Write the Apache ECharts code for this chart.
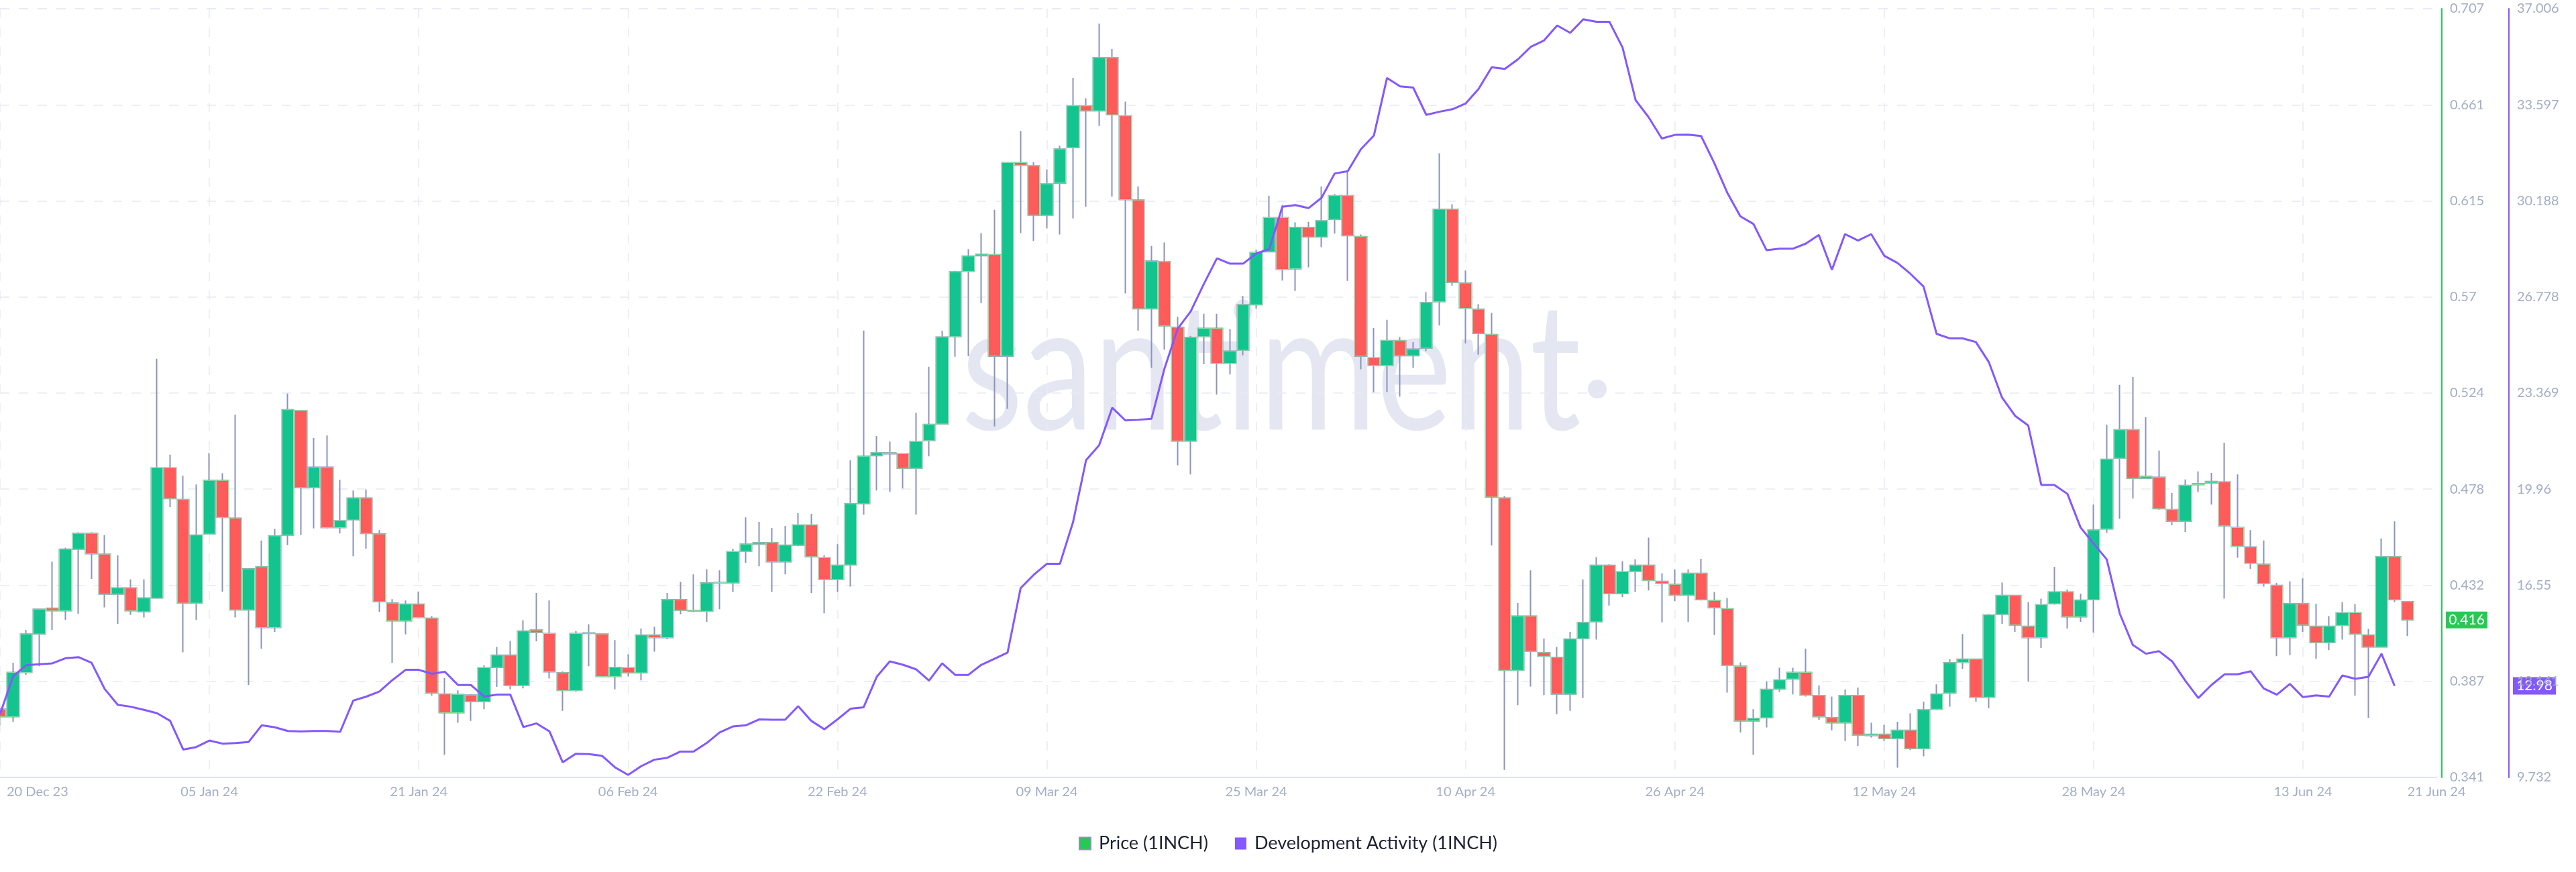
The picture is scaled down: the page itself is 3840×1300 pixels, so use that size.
<!DOCTYPE html>
<html><head><meta charset="utf-8">
<script src="https://cdn.jsdelivr.net/npm/echarts@6/dist/echarts.min.js"></script>
<style>html,body{margin:0;padding:0;background:#fff}#c{width:3840px;height:1300px}</style>
</head><body><div id="c"></div>
<script>
// x positions are day offsets from 20 Dec 2023
const xTickLabels = ['20 Dec 23','05 Jan 24','21 Jan 24','06 Feb 24','22 Feb 24','09 Mar 24','25 Mar 24','10 Apr 24','26 Apr 24','12 May 24','28 May 24','13 Jun 24'];
const xTickStep = 16;
const xEndLabel = '21 Jun 24';
const viewDays = 186.2;
const priceTickLabels = ['0.341','0.387','0.432','0.478','0.524','0.57','0.615','0.661','0.707'];
const devTickLabels = ['9.732','13.141','16.55','19.96','23.369','26.778','30.188','33.597','37.006'];

// [open, close, low, high] per day, 1INCH price
const priceCandles = [
[0.3735,0.3699,0.3658,0.3742],[0.3699,0.3910,0.3675,0.3956],[0.3910,0.4093,0.3898,0.4112],[0.4093,0.4211,0.3939,0.4213],[0.4216,0.4204,0.4112,0.4437],
[0.4204,0.4497,0.4160,0.4504],[0.4497,0.4572,0.4189,0.4577],[0.4572,0.4475,0.4355,0.4577],[0.4473,0.4283,0.4220,0.4564],[0.4283,0.4312,0.4141,0.4468],
[0.4312,0.4204,0.4184,0.4353],[0.4199,0.4264,0.4172,0.4353],[0.4264,0.4884,0.4260,0.5404],[0.4884,0.4738,0.4697,0.4947],[0.4733,0.4240,0.4006,0.4846],
[0.4240,0.4564,0.4160,0.4805],[0.4569,0.4824,0.4566,0.4954],[0.4824,0.4648,0.4295,0.4858],[0.4644,0.4208,0.4172,0.5137],[0.4208,0.4403,0.3850,0.4405],
[0.4413,0.4124,0.4023,0.4538],[0.4124,0.4560,0.4103,0.4593],[0.4564,0.5161,0.4516,0.5238],[0.5156,0.4790,0.4564,0.5158],[0.4790,0.4887,0.4596,0.5026],
[0.4887,0.4600,0.4596,0.5038],[0.4600,0.4632,0.4572,0.4827],[0.4636,0.4740,0.4463,0.4776],[0.4740,0.4572,0.4499,0.4781],[0.4569,0.4247,0.4199,0.4588],
[0.4240,0.4156,0.3956,0.4259],[0.4156,0.4235,0.4091,0.4252],[0.4235,0.4172,0.4168,0.4295],[0.4168,0.3812,0.3800,0.4178],[0.3807,0.3718,0.3518,0.3884],
[0.3718,0.3805,0.3670,0.3824],[0.3802,0.3771,0.3679,0.3807],[0.3771,0.3932,0.3735,0.3944],[0.3934,0.3992,0.3841,0.4031],[0.3992,0.3848,0.3829,0.4060],
[0.3848,0.4107,0.3834,0.4158],[0.4112,0.4100,0.4058,0.4288],[0.4095,0.3913,0.3881,0.4252],[0.3908,0.3824,0.3727,0.3915],[0.3824,0.4095,0.3819,0.4107],
[0.4098,0.4096,0.3939,0.4139],[0.4093,0.3891,0.3889,0.4095],[0.3891,0.3934,0.3829,0.4064],[0.3932,0.3908,0.3891,0.3996],[0.3908,0.4088,0.3872,0.4119],
[0.4088,0.4076,0.4009,0.4127],[0.4076,0.4256,0.4069,0.4288],[0.4256,0.4206,0.4187,0.4341],[0.4205,0.4203,0.4197,0.4377],[0.4201,0.4336,0.4151,0.4401],
[0.4336,0.4338,0.4211,0.4396],[0.4336,0.4485,0.4293,0.4499],[0.4487,0.4521,0.4432,0.4648],[0.4521,0.4528,0.4415,0.4627],[0.4528,0.4437,0.4293,0.4598],
[0.4437,0.4516,0.4377,0.4608],[0.4516,0.4612,0.4511,0.4668],[0.4612,0.4461,0.4288,0.4665],[0.4456,0.4353,0.4192,0.4468],[0.4353,0.4420,0.4293,0.4521],
[0.4422,0.4713,0.4319,0.4920],[0.4713,0.4939,0.4661,0.5538],[0.4942,0.4956,0.4776,0.5036],[0.4956,0.4951,0.4769,0.5009],[0.4951,0.4882,0.4786,0.4953],
[0.4882,0.5009,0.4661,0.5146],[0.5014,0.5091,0.4939,0.5365],[0.5093,0.5507,0.5091,0.5536],[0.5509,0.5817,0.5413,0.5822],[0.5820,0.5892,0.5416,0.5925],
[0.5894,0.5901,0.5668,0.6002],[0.5899,0.5416,0.5081,0.6113],[0.5416,0.6337,0.5165,0.6339],[0.6337,0.6325,0.6002,0.6488],[0.6322,0.6087,0.5964,0.6339],
[0.6087,0.6236,0.6024,0.6305],[0.6240,0.6402,0.5995,0.6418],[0.6409,0.6608,0.6072,0.6741],[0.6608,0.6584,0.6127,0.6644],[0.6584,0.6837,0.6512,0.6999],
[0.6837,0.6565,0.6176,0.6878],[0.6560,0.6161,0.5714,0.6628],[0.6159,0.5642,0.5538,0.6224],[0.5642,0.5868,0.5360,0.5940],[0.5865,0.5560,0.5447,0.5957],
[0.5553,0.5012,0.4896,0.5603],[0.5012,0.5505,0.4853,0.5512],[0.5509,0.5548,0.5377,0.5618],[0.5548,0.5382,0.5233,0.5618],[0.5382,0.5440,0.5329,0.5545],
[0.5444,0.5661,0.5420,0.5702],[0.5661,0.5909,0.5642,0.5923],[0.5913,0.6075,0.5912,0.6180],[0.6075,0.5829,0.5776,0.6137],[0.5832,0.6029,0.5726,0.6053],
[0.6029,0.5983,0.5839,0.6055],[0.5983,0.6060,0.5935,0.6224],[0.6067,0.6180,0.5999,0.6188],[0.6180,0.5990,0.5774,0.6296],[0.5985,0.5416,0.5353,0.5995],
[0.5408,0.5372,0.5243,0.5550],[0.5372,0.5490,0.5245,0.5589],[0.5490,0.5418,0.5223,0.5507],[0.5418,0.5449,0.5360,0.5483],[0.5454,0.5671,0.5440,0.5721],
[0.5675,0.6115,0.5562,0.6382],[0.6115,0.5767,0.5752,0.6139],[0.5764,0.5644,0.5476,0.5824],[0.5639,0.5524,0.5423,0.5663],[0.5519,0.4745,0.4514,0.5622],
[0.4740,0.3920,0.3446,0.4750],[0.3920,0.4178,0.3754,0.4240],[0.4178,0.4011,0.3843,0.4396],[0.4004,0.3987,0.3802,0.4071],[0.3982,0.3807,0.3711,0.4031],
[0.3807,0.4069,0.3727,0.4103],[0.4071,0.4148,0.3788,0.4353],[0.4151,0.4420,0.4066,0.4459],[0.4420,0.4285,0.4228,0.4425],[0.4285,0.4389,0.4269,0.4439],
[0.4391,0.4420,0.4293,0.4449],[0.4420,0.4348,0.4300,0.4552],[0.4343,0.4334,0.4148,0.4382],[0.4329,0.4278,0.4249,0.4401],[0.4278,0.4382,0.4151,0.4401],
[0.4382,0.4256,0.4252,0.4451],[0.4252,0.4218,0.4088,0.4293],[0.4213,0.3944,0.3814,0.4264],[0.3939,0.3679,0.3624,0.3958],[0.3679,0.3691,0.3518,0.3735],
[0.3694,0.3829,0.3648,0.3867],[0.3831,0.3874,0.3817,0.3932],[0.3879,0.3910,0.3805,0.3932],[0.3910,0.3802,0.3795,0.4023],[0.3800,0.3699,0.3684,0.3848],
[0.3694,0.3670,0.3634,0.3795],[0.3670,0.3800,0.3583,0.3829],[0.3800,0.3612,0.3559,0.3838],[0.3610,0.3615,0.3600,0.3670],[0.3615,0.3595,0.3583,0.3660],
[0.3595,0.3634,0.3456,0.3675],[0.3634,0.3547,0.3540,0.3715],[0.3547,0.3732,0.3511,0.3771],[0.3735,0.3807,0.3730,0.3853],[0.3812,0.3956,0.3747,0.3973],
[0.3958,0.3973,0.3927,0.4093],[0.3973,0.3792,0.3771,0.3975],[0.3792,0.4184,0.3739,0.4189],[0.4187,0.4276,0.4141,0.4338],[0.4276,0.4136,0.4103,0.4278],
[0.4129,0.4076,0.3867,0.4244],[0.4076,0.4232,0.4026,0.4261],[0.4237,0.4293,0.4232,0.4413],[0.4293,0.4175,0.4119,0.4305],[0.4175,0.4254,0.4151,0.4285],
[0.4256,0.4588,0.4100,0.4709],[0.4593,0.4925,0.4574,0.5089],[0.4930,0.5065,0.4641,0.5279],[0.5065,0.4834,0.4738,0.5317],[0.4834,0.4843,0.4832,0.5125],
[0.4839,0.4690,0.4685,0.4966],[0.4685,0.4630,0.4612,0.4764],[0.4630,0.4800,0.4579,0.4829],[0.4804,0.4809,0.4769,0.4867],[0.4812,0.4819,0.4709,0.4860],
[0.4817,0.4608,0.4261,0.5004],[0.4600,0.4511,0.4456,0.4853],[0.4507,0.4430,0.4403,0.4588],[0.4425,0.4334,0.4319,0.4538],[0.4324,0.4076,0.3987,0.4336],
[0.4076,0.4237,0.3992,0.4343],[0.4237,0.4136,0.4103,0.4358],[0.4129,0.4052,0.3975,0.4237],[0.4052,0.4129,0.4016,0.4178],[0.4134,0.4194,0.4066,0.4244],
[0.4194,0.4093,0.3800,0.4235],[0.4088,0.4031,0.3694,0.4117],[0.4031,0.4461,0.4028,0.4548],[0.4461,0.4256,0.4244,0.4629],[0.4247,0.4160,0.4083,0.4249]
];

// Development activity (1INCH), per day
const devActivity = [
11.97,13.32,13.71,13.75,13.78,13.96,14.00,13.80,12.87,12.31,
12.24,12.13,12.01,11.74,10.72,10.81,11.04,10.93,10.95,10.99,
11.58,11.51,11.38,11.36,11.38,11.38,11.35,12.46,12.60,12.78,
13.19,13.55,13.55,13.41,13.48,13.01,13.01,12.60,12.67,12.67,
11.52,11.65,11.36,10.27,10.57,10.56,10.50,10.09,9.82,10.13,
10.36,10.43,10.65,10.65,10.95,11.33,11.54,11.58,11.79,11.78,
11.78,12.26,11.74,11.44,11.79,12.17,12.22,13.30,13.85,13.73,
13.57,13.17,13.78,13.37,13.37,13.73,13.94,14.16,16.45,16.92,
17.31,17.31,18.78,20.99,21.52,22.85,22.40,22.42,22.46,24.25,
25.65,26.27,27.24,28.15,27.96,27.96,28.32,28.48,29.98,30.04,
29.93,30.30,31.16,31.24,32.02,32.51,34.55,34.25,34.21,33.24,
33.35,33.44,33.64,34.16,34.93,34.87,35.21,35.66,35.88,36.41,
36.15,36.63,36.54,36.54,35.63,33.76,33.15,32.40,32.53,32.54,
32.49,31.54,30.48,29.64,29.37,28.44,28.49,28.49,28.67,28.98,
27.74,29.01,28.78,29.01,28.24,27.99,27.60,27.15,25.47,25.31,
25.31,25.18,24.46,23.21,22.56,22.22,20.11,20.11,19.79,18.60,
18.03,17.47,15.54,14.43,14.12,14.21,13.85,13.17,12.55,13.01,
13.39,13.39,13.50,12.89,12.67,13.05,12.58,12.64,12.60,13.35,
13.23,13.30,14.12,12.98
];

const PRICE_NAME = 'Price (1INCH)';
const DEV_NAME = 'Development Activity (1INCH)';
const UP = '#14c48f', DOWN = '#ff5b5b', WICK = '#8a94bc', BODY_BORDER = '#8de3a3';
const GREEN_AXIS = '#26c953', PURPLE = '#8358ff';
const LABEL = '#a3adc5', GRID = '#e8eaf3', FONT = 'Lato, "Open Sans", sans-serif';
const WATERMARK = '#e4e7f2';

const priceMin = parseFloat(priceTickLabels[0]), priceMax = parseFloat(priceTickLabels[priceTickLabels.length-1]);
const devMin = parseFloat(devTickLabels[0]), devMax = parseFloat(devTickLabels[devTickLabels.length-1]);
const priceStep = (priceMax - priceMin) / (priceTickLabels.length - 1);
const devStep = (devMax - devMin) / (devTickLabels.length - 1);

const candleData = priceCandles.map((c, i) => [i, c[0], c[1], c[2], c[3]]);
const bodyData = priceCandles.map((c, i) => [i, c[0], c[1], Math.min(c[0], c[1]), Math.max(c[0], c[1])]);
const devData = devActivity.map((v, i) => [i, v]);

const chart = echarts.init(document.getElementById('c'), null, {renderer: 'canvas'});
const dashed = {color: GRID, type: [14, 14], width: 1.5};

const option = {
  animation: false,
  backgroundColor: '#ffffff',
  grid: {left: 0, right: 208, top: 13, bottom: 141, containLabel: false},
  legend: {
    top: 1239, left: 'center', selectedMode: false,
    itemWidth: 17, itemHeight: 18, itemGap: 40,
    textStyle: {fontSize: 27, color: '#1d2233', fontFamily: FONT, padding: [0, 0, 0, 7]},
    data: [
      {name: PRICE_NAME, icon: 'rect', itemStyle: {color: GREEN_AXIS}},
      {name: DEV_NAME, icon: 'rect', itemStyle: {color: PURPLE}}
    ]
  },
  xAxis: {
    type: 'value', min: 0, max: viewDays, interval: xTickStep,
    axisLine: {show: true, onZero: false, lineStyle: {color: '#dfe3ee', width: 2}},
    axisTick: {show: false},
    splitLine: {show: true, showMaxLine: false, lineStyle: dashed},
    axisLabel: {
      color: LABEL, fontSize: 20, fontFamily: FONT, margin: 12,
      showMinLabel: true, showMaxLabel: true, hideOverlap: false, alignMinLabel: 'left',
      formatter: function (v) {
        if (Math.abs(v - viewDays) < 0.01) return xEndLabel;
        const k = Math.round(v / xTickStep);
        if (k === 0) return '{first|' + xTickLabels[0] + '}';
        return xTickLabels[k] || '';
      },
      rich: {first: {color: LABEL, fontSize: 20, fontFamily: FONT, padding: [0, 0, 0, 10]}}
    }
  },
  yAxis: [
    {
      type: 'value', position: 'right', offset: 8, min: priceMin, max: priceMax, interval: priceStep,
      axisLine: {show: true, onZero: false, lineStyle: {color: GREEN_AXIS, width: 2}},
      axisTick: {show: false},
      splitLine: {show: true, lineStyle: dashed},
      axisLabel: {color: LABEL, fontSize: 20, fontFamily: FONT, margin: 12,
        showMinLabel: true, showMaxLabel: true,
        formatter: v => priceTickLabels[Math.round((v - priceMin) / priceStep)] || ''}
    },
    {
      type: 'value', position: 'right', offset: 108, min: devMin, max: devMax, interval: devStep,
      axisLine: {show: true, onZero: false, lineStyle: {color: PURPLE, width: 2}},
      axisTick: {show: false},
      splitLine: {show: false},
      axisLabel: {color: LABEL, fontSize: 20, fontFamily: FONT, margin: 12,
        showMinLabel: true, showMaxLabel: true,
        formatter: v => devTickLabels[Math.round((v - devMin) / devStep)] || ''}
    }
  ],
  series: [
    {
      type: 'candlestick', name: PRICE_NAME, yAxisIndex: 0, data: candleData,
      encode: {x: 0, y: [1, 2, 3, 4]}, barWidth: 18, z: 2,
      itemStyle: {color: UP, color0: DOWN, borderColor: WICK, borderColor0: WICK, borderColorDoji: WICK, borderWidth: 2}
    },
    {
      type: 'candlestick', name: PRICE_NAME, yAxisIndex: 0, data: bodyData,
      encode: {x: 0, y: [1, 2, 3, 4]}, barWidth: 18, z: 3,
      itemStyle: {color: UP, color0: DOWN, borderColor: BODY_BORDER, borderColor0: BODY_BORDER, borderColorDoji: BODY_BORDER, borderWidth: 1}
    },
    {
      type: 'line', name: DEV_NAME, yAxisIndex: 1, data: devData, showSymbol: false, z: 5,
      lineStyle: {color: PURPLE, width: 3}, itemStyle: {color: PURPLE}
    }
  ]
};
chart.setOption(option);

// value badges at the right axes, positioned via the library's scales
const lastClose = priceCandles[priceCandles.length - 1][1];
const lastDev = devActivity[devActivity.length - 1];
const yP = chart.convertToPixel({yAxisIndex: 0}, lastClose);
const yD = chart.convertToPixel({yAxisIndex: 1}, lastDev);
const xR = chart.convertToPixel({xAxisIndex: 0}, viewDays);
function badge(id, x, y, w, h, fill, txt) {
  return {id: id, type: 'group', z: 50, children: [
    {type: 'rect', shape: {x: x, y: y - h / 2, width: w, height: h}, style: {fill: fill}},
    {type: 'text', style: {text: txt, x: x + w / 2, y: y, align: 'center', verticalAlign: 'middle', fill: '#ffffff', font: 'normal 21px ' + FONT}}
  ]};
}
chart.setOption({graphic: [
  {id: 'wm', type: 'text', z: -10, silent: true, x: 1433, y: 555, scaleX: 0.8, scaleY: 1,
    style: {text: 'santiment', x: 0, y: 0, font: 'normal 265px Lato', fill: WATERMARK, verticalAlign: 'middle', align: 'left'}},
  {id: 'wmdot', type: 'circle', z: -10, silent: true, shape: {cx: 2381, cy: 580, r: 14}, style: {fill: WATERMARK}},
  badge('bp', xR + 14, yP, 62, 25, GREEN_AXIS, lastClose.toFixed(3)),
  badge('bd', xR + 114, yD, 64, 26, PURPLE, lastDev.toFixed(2))
]});
</script>
</body></html>
